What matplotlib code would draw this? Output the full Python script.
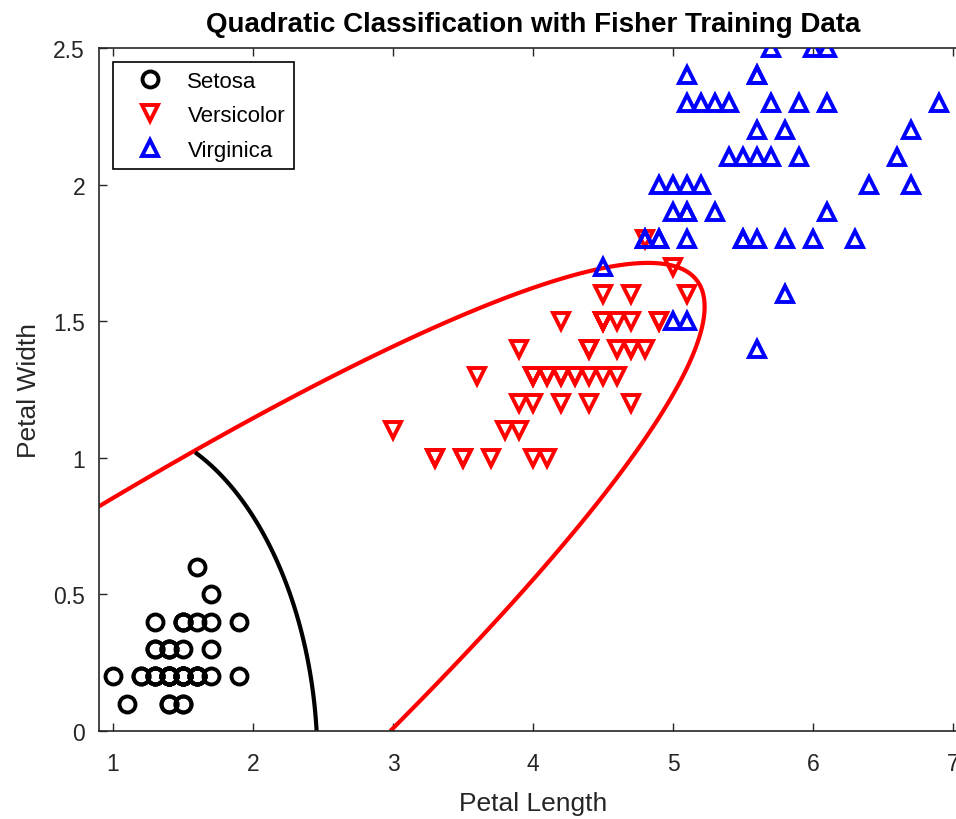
import matplotlib.pyplot as plt
import numpy as np

# Fisher iris: petal length / petal width per species
setosa_len = [1.4, 1.4, 1.3, 1.5, 1.4, 1.7, 1.4, 1.5, 1.4, 1.5, 1.5, 1.6, 1.4, 1.1, 1.2, 1.5, 1.3, 1.4, 1.7, 1.5,
              1.7, 1.5, 1.0, 1.7, 1.9, 1.6, 1.6, 1.5, 1.4, 1.6, 1.6, 1.5, 1.5, 1.4, 1.5, 1.2, 1.3, 1.4, 1.3, 1.5,
              1.3, 1.3, 1.3, 1.6, 1.9, 1.4, 1.6, 1.4, 1.5, 1.4]
setosa_wid = [0.2, 0.2, 0.2, 0.2, 0.2, 0.4, 0.3, 0.2, 0.2, 0.1, 0.2, 0.2, 0.1, 0.1, 0.2, 0.4, 0.4, 0.3, 0.3, 0.3,
              0.2, 0.4, 0.2, 0.5, 0.2, 0.2, 0.4, 0.2, 0.2, 0.2, 0.2, 0.4, 0.1, 0.2, 0.2, 0.2, 0.2, 0.1, 0.2, 0.2,
              0.3, 0.3, 0.2, 0.6, 0.4, 0.3, 0.2, 0.2, 0.2, 0.2]
versicolor_len = [4.7, 4.5, 4.9, 4.0, 4.6, 4.5, 4.7, 3.3, 4.6, 3.9, 3.5, 4.2, 4.0, 4.7, 3.6, 4.4, 4.5, 4.1, 4.5, 3.9,
                  4.8, 4.0, 4.9, 4.7, 4.3, 4.4, 4.8, 5.0, 4.5, 3.5, 3.8, 3.7, 3.9, 5.1, 4.5, 4.5, 4.7, 4.4, 4.1, 4.0,
                  4.4, 4.6, 4.0, 3.3, 4.2, 4.2, 4.2, 4.3, 3.0, 4.1]
versicolor_wid = [1.4, 1.5, 1.5, 1.3, 1.5, 1.3, 1.6, 1.0, 1.3, 1.4, 1.0, 1.5, 1.0, 1.4, 1.3, 1.4, 1.5, 1.0, 1.5, 1.1,
                  1.8, 1.3, 1.5, 1.2, 1.3, 1.4, 1.4, 1.7, 1.5, 1.0, 1.1, 1.0, 1.2, 1.6, 1.5, 1.6, 1.5, 1.3, 1.3, 1.3,
                  1.2, 1.4, 1.2, 1.0, 1.3, 1.2, 1.3, 1.3, 1.1, 1.3]
virginica_len = [6.0, 5.1, 5.9, 5.6, 5.8, 6.6, 4.5, 6.3, 5.8, 6.1, 5.1, 5.3, 5.5, 5.0, 5.1, 5.3, 5.5, 6.7, 6.9, 5.0,
                 5.7, 4.9, 6.7, 4.9, 5.7, 6.0, 4.8, 4.9, 5.6, 5.8, 6.1, 6.4, 5.6, 5.1, 5.6, 6.1, 5.6, 5.5, 4.8, 5.4,
                 5.6, 5.1, 5.1, 5.9, 5.7, 5.2, 5.0, 5.2, 5.4, 5.1]
virginica_wid = [2.5, 1.9, 2.1, 1.8, 2.2, 2.1, 1.7, 1.8, 1.8, 2.5, 2.0, 1.9, 2.1, 2.0, 2.4, 2.3, 1.8, 2.2, 2.3, 1.5,
                 2.3, 2.0, 2.0, 1.8, 2.1, 1.8, 1.8, 1.8, 2.1, 1.6, 1.9, 2.0, 2.2, 1.5, 1.4, 2.3, 2.4, 1.8, 1.8, 2.1,
                 2.4, 2.3, 1.9, 2.3, 2.5, 2.3, 1.9, 2.0, 2.3, 1.8]

species = ['Setosa', 'Versicolor', 'Virginica']
colori = ['k', 'r', 'b']
markers = ['o', 'v', '^']
x_ticks = [1, 2, 3, 4, 5, 6, 7]
y_ticks = [0, 0.5, 1, 1.5, 2, 2.5]
y_ticklabels = ['0', '0.5', '1', '1.5', '2', '2.5']

plt.rcParams['font.family'] = ['Liberation Sans', 'DejaVu Sans']
grigio = '#262626'

gruppi = [(setosa_len, setosa_wid), (versicolor_len, versicolor_wid), (virginica_len, virginica_wid)]


# discriminante quadratica (QDA, prior uguali)
def discr(lun, lar, X, Y):
    d = np.array([lun, lar])
    m = d.mean(axis=1)
    S = np.cov(d)
    Si = np.linalg.inv(S)
    dx, dy = X - m[0], Y - m[1]
    maha = Si[0, 0] * dx**2 + 2 * Si[0, 1] * dx * dy + Si[1, 1] * dy**2
    return -0.5 * np.log(np.linalg.det(S)) - 0.5 * maha


fig = plt.figure(figsize=(9.56, 8.2), dpi=100)
ax = fig.add_axes([99 / 956, 88 / 820, 868 / 956, 683 / 820])

for (lun, lar), nome, c, mk in zip(gruppi, species, colori, markers):
    ax.plot(lun, lar, linestyle='none', marker=mk, markersize=11.5, markerfacecolor='none',
            markeredgecolor=c, markeredgewidth=2.8, label=nome, zorder=3)

# confine versicolor / virginica
xs = np.linspace(0.9, 7.1, 800)
ys = np.linspace(0, 2.5, 800)
X, Y = np.meshgrid(xs, ys)
ax.contour(X, Y, discr(*gruppi[1], X, Y) - discr(*gruppi[2], X, Y), levels=[0], colors='r', linewidths=3)

# confine setosa / versicolor (solo la parte rilevante)
ys2 = np.linspace(0, 1.02, 400)
X2, Y2 = np.meshgrid(xs, ys2)
ax.contour(X2, Y2, discr(*gruppi[0], X2, Y2) - discr(*gruppi[1], X2, Y2), levels=[0], colors='k', linewidths=3)

ax.set_xlim(0.9, 7.1)
ax.set_ylim(0, 2.5)
ax.set_xticks(x_ticks)
ax.set_yticks(y_ticks)
ax.set_yticklabels(y_ticklabels)
ax.tick_params(direction='in', length=6, width=1, colors=grigio, labelsize=16.5, top=True, right=True)
ax.tick_params(axis='x', pad=15)
ax.tick_params(axis='y', pad=10)
for s in ax.spines.values():
    s.set_color(grigio)
    s.set_linewidth(1.2)

ax.set_xlabel('Petal Length', fontsize=19, color=grigio, labelpad=12)
ax.set_ylabel('Petal Width', fontsize=19, color=grigio, labelpad=9)
ax.set_title('Quadratic Classification with Fisher Training Data', fontsize=20, fontweight='bold', pad=12)

leg = ax.legend(loc='upper left', bbox_to_anchor=(14 / 868, 1 - 14 / 683), borderaxespad=0,
                fontsize=16, numpoints=1, fancybox=False, framealpha=1, edgecolor='k',
                handlelength=2.5, handletextpad=0.45, borderpad=0.4, labelspacing=0.6)
leg.get_frame().set_linewidth(1.2)

fig.savefig('out.png', dpi=100)
